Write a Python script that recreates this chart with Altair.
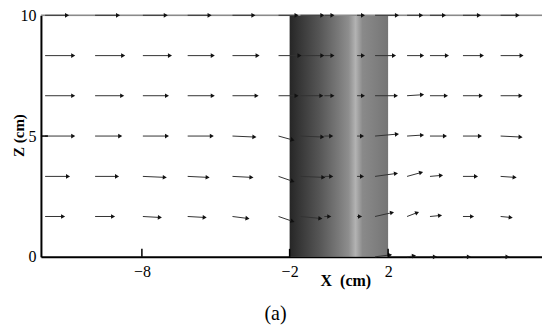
import math
import altair as alt
import pandas as pd

# grid of arrow tails (cm)
Z_ROWS = [10.0, 8.33, 6.67, 5.0, 3.33, 1.67, 0.0]
X_COLS = [-11.93, -9.9, -7.96, -6.14, -4.32, -2.45, -1.56, -0.59, 0.74,
          1.47, 2.77, 3.70, 5.04, 6.57]

# horizontal velocity components drawn (cm), one list per row
U_Z10 = [0.89, 0.93, 0.93, 0.89, 0.85, 0.73, 0.89, 0.33, 0.24, 0.89, 0.57, 0.57, 0.65, 0.69]
U_Z833 = [1.14, 1.14, 1.10, 1.02, 1.02, 0.85, 0.89, 0.33, 0.24, 0.77, 0.61, 0.69, 0.77, 0.85]
U_Z667 = [1.14, 1.10, 0.98, 1.02, 0.98, 0.73, 0.85, 0.33, 0.24, 0.85, 0.61, 0.65, 0.73, 0.81]
U_Z5 = [1.14, 1.02, 0.98, 0.98, 0.89, 0.57, 0.89, 0.28, 0.20, 0.89, 0.61, 0.61, 0.69, 0.81]
U_Z333 = [0.93, 0.89, 0.89, 0.81, 0.77, 0.57, 0.93, 0.28, 0.20, 0.85, 0.57, 0.45, 0.53, 0.57]
U_Z167 = [0.73, 0.73, 0.69, 0.69, 0.61, 0.57, 0.81, 0.20, 0.12, 0.69, 0.41, 0.41, 0.37, 0.41]
U_Z0 = [0, 0, 0, 0, 0, 0, 0, 0, 0, 0.61, 0.28, 0.20, 0.24, 0.28]

# vertical components (cm)
W_Z10 = [0] * 14
W_Z833 = [0] * 14
W_Z667 = [0, 0, 0, 0, 0, 0, 0, 0, 0, 0, 0.04, 0, 0, 0]
W_Z5 = [0, 0, 0, 0, -0.04, -0.16, -0.04, 0, 0, 0.08, 0.04, 0, 0, -0.04]
W_Z333 = [0, 0, -0.04, -0.04, -0.04, -0.20, -0.04, 0, 0, 0.12, 0.16, 0.04, 0, -0.04]
W_Z167 = [0, 0, -0.04, -0.04, -0.08, -0.20, -0.08, 0, 0, 0.16, 0.16, 0.04, 0, -0.04]
W_Z0 = [0, 0, 0, 0, 0, 0, 0, 0, 0, 0.08, 0.04, 0, 0, 0]

U_ROWS = [U_Z10, U_Z833, U_Z667, U_Z5, U_Z333, U_Z167, U_Z0]
W_ROWS = [W_Z10, W_Z833, W_Z667, W_Z5, W_Z333, W_Z167, W_Z0]

# cylinder extent
CYL_X = [-2, 2]
CYL_Z = [0, 10]

X_TICKS = [-8, -2, 2]
Z_TICKS = [0, 5, 10]
X_DOMAIN = [-12.1, 8.25]
Z_DOMAIN = [0, 10]

recs = []
for z, us, ws in zip(Z_ROWS, U_ROWS, W_ROWS):
    for x, u, w in zip(X_COLS, us, ws):
        if u == 0 and w == 0:
            continue
        recs.append(dict(x=x, z=z, xe=x + u, ze=z + w,
                         ang=(-math.degrees(math.atan2(w, u))) % 360))
arrows = pd.DataFrame(recs)
cyl = pd.DataFrame({"x0": [CYL_X[0]], "x1": [CYL_X[1]], "z0": [CYL_Z[0]], "z1": [CYL_Z[1]]})
xt = pd.DataFrame({"v": [t for t in X_TICKS]})
zt = pd.DataFrame({"v": [5]})

SERIF = "Liberation Serif"
AX_X = alt.Axis(values=X_TICKS, title="X\u00a0\u00a0(cm)", titleFont=SERIF, titleFontSize=16,
                titleFontWeight="bold", titleColor="black", titleX=305, titleY=16,
                titleBaseline="top", titleAlign="center",
                labelFont=SERIF, labelFontSize=16, labelColor="black", labelPadding=7,
                ticks=False, domainColor="black", domainWidth=2, grid=False, labelFlush=False)
AX_Z = alt.Axis(values=Z_TICKS, title="Z (cm)", titleFont=SERIF, titleFontSize=15,
                titleFontWeight="bold", titleColor="black", titleX=-14, titleY=120,
                titleAlign="center",
                labelFont=SERIF, labelFontSize=16, labelColor="black", labelPadding=5,
                ticks=False, domainColor="black", domainWidth=2, grid=False, labelFlush=False)
SX = alt.Scale(domain=X_DOMAIN, nice=False, zero=False)
SZ = alt.Scale(domain=Z_DOMAIN, nice=False, zero=False)


def X(f):
    return alt.X(f, type="quantitative", scale=SX, axis=AX_X)


def Z(f):
    return alt.Y(f, type="quantitative", scale=SZ, axis=AX_Z)


grad = {
    "gradient": "linear", "x1": 0, "x2": 1, "y1": 0, "y2": 0,
    "stops": [
        {"offset": 0.0, "color": "#262626"},
        {"offset": 0.08, "color": "#333333"},
        {"offset": 0.3, "color": "#555555"},
        {"offset": 0.5, "color": "#7a7a7a"},
        {"offset": 0.6, "color": "#8e8e8e"},
        {"offset": 0.67, "color": "#b3b3b3"},
        {"offset": 0.74, "color": "#8a8a8a"},
        {"offset": 1.0, "color": "#757575"},
    ],
}

cyl_layer = alt.Chart(cyl).mark_rect(color=grad).encode(
    x=X("x0"), x2=alt.X2("x1"), y=Z("z0"), y2=alt.Y2("z1"))

top_line = alt.Chart(cyl).mark_rule(color="#8a8a8a", strokeWidth=1.5).encode(
    x=alt.value(0), x2=alt.value(504), y=Z("z1"))

shafts = alt.Chart(arrows).mark_rule(color="#333333", strokeWidth=1).encode(
    x=X("x"), y=Z("z"), x2=alt.X2("xe"), y2=alt.Y2("ze"))

heads = alt.Chart(arrows).mark_point(shape="triangle-right", filled=True, size=22,
                                     color="#111111", opacity=1).encode(
    x=X("xe"), y=Z("ze"), angle=alt.Angle("ang:Q", scale=None))

xticks = alt.Chart(xt).mark_rule(color="black", strokeWidth=1.5).encode(
    x=X("v"), y=alt.value(242), y2=alt.value(234))

zticks = alt.Chart(zt).mark_rule(color="black", strokeWidth=1.5).encode(
    y=Z("v"), x=alt.value(0), x2=alt.value(7))

chart = alt.layer(cyl_layer, top_line, shafts, heads, xticks, zticks).properties(
    width=502, height=242,
    padding={"left": 33, "top": 7, "right": 0, "bottom": 70},
    autosize=alt.AutoSizeParams(type="none"),
    title=alt.TitleParams("(a)", orient="bottom", font=SERIF, fontSize=20,
                          fontWeight="normal", color="black", dx=-16, offset=15,
                          anchor="middle"),
).configure_view(stroke=None).configure(background="white")

chart.save("out.html", embed_options={"renderer": "svg", "actions": False})
